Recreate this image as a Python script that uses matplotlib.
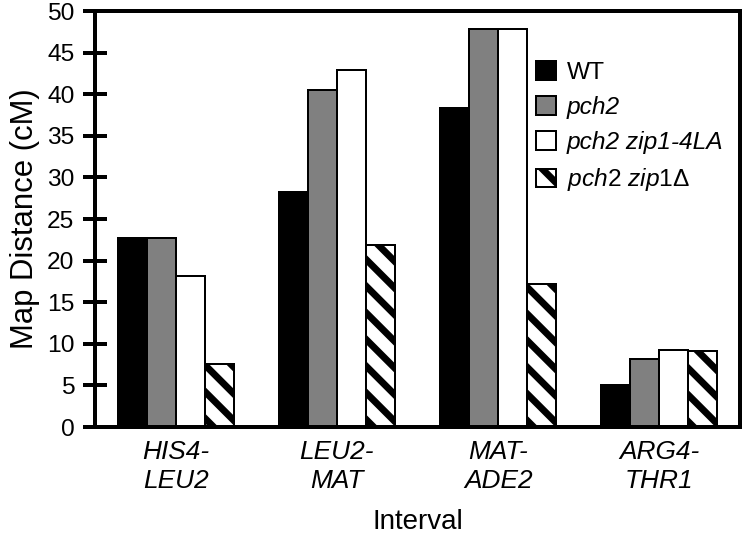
import numpy as np
import matplotlib
matplotlib.use("Agg")
import matplotlib.pyplot as plt

plt.rcParams['font.family'] = ['Liberation Sans', 'DejaVu Sans']
plt.rcParams['mathtext.fontset'] = 'custom'
plt.rcParams['mathtext.rm'] = 'Liberation Sans'
plt.rcParams['mathtext.it'] = 'Liberation Sans:italic'
plt.rcParams['hatch.linewidth'] = 3.1

intervals = ["HIS4-\nLEU2", "LEU2-\nMAT", "MAT-\nADE2", "ARG4-\nTHR1"]
strains = ["WT", "pch2", "pch2 zip1-4LA", r"$\mathit{pch2\ zip1}\Delta$"]
wt = [22.7, 28.3, 38.4, 5.1]
pch2 = [22.7, 40.5, 47.8, 8.2]
pch2_zip1_4la = [18.2, 42.9, 47.8, 9.2]
pch2_zip1_del = [7.6, 21.9, 17.2, 9.1]

DPI = 160
fig = plt.figure(figsize=(747 / DPI, 534 / DPI), dpi=DPI)
ax = fig.add_axes([95 / 747, 107 / 534, 645 / 747, 416 / 534])

x = np.arange(len(intervals))
w = 0.18
series = [wt, pch2, pch2_zip1_4la, pch2_zip1_del]
faces = ["black", "#808080", "white", "white"]
hatches = [None, None, None, "\\\\"]
for i, (vals, fc, h) in enumerate(zip(series, faces, hatches)):
    ax.bar(x + (i - 1.5) * w, vals, w, color=fc, edgecolor="black",
           linewidth=0.9, hatch=h, label=strains[i])

ax.set_xlim(-0.5, 3.5)
ax.set_ylim(0, 50)
ax.set_yticks(np.arange(0, 51, 5))
ax.set_xticks(x)
ax.set_xticklabels(intervals, fontsize=11.8, style="italic", linespacing=1.25)
ax.tick_params(axis="x", length=0, pad=6)
ax.tick_params(axis="y", direction="inout", length=10.5, width=1.8,
               labelsize=11, pad=4)
for s in ax.spines.values():
    s.set_linewidth(1.8)

ax.set_ylabel("Map Distance (cM)", fontsize=14, labelpad=3)
ax.set_xlabel("Interval", fontsize=12.5, labelpad=7)

leg = ax.legend(loc="upper left", bbox_to_anchor=(0.684, 0.88), frameon=False,
                fontsize=11, handlelength=0.8, handleheight=0.8,
                handletextpad=0.45, labelspacing=0.5, borderpad=0,
                borderaxespad=0)
for t in leg.get_texts()[1:3]:
    t.set_style("italic")

fig.savefig("out.png", dpi=DPI)
